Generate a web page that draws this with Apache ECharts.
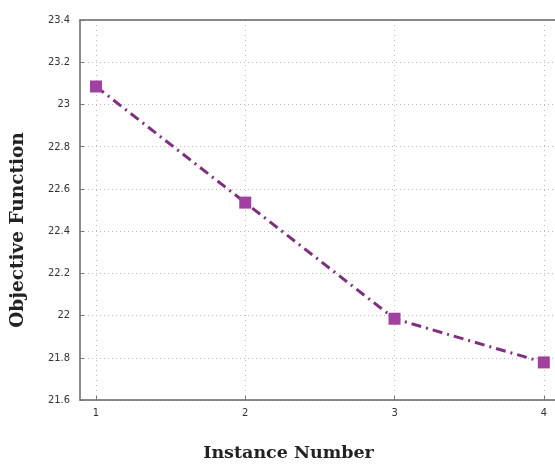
<!DOCTYPE html>
<html>
<head>
<meta charset="utf-8">
<script src="https://cdn.jsdelivr.net/npm/echarts@6/dist/echarts.min.js"></script>
<style>
  html, body { margin: 0; padding: 0; background: #fff; }
  #mainChart { width: 555px; height: 467px; }
</style>
</head>
<body>
<div id="mainChart"></div>
<script>
// instance numbers and objective values
var instances = [1, 2, 3, 4];
var objective = [23.085, 22.535, 21.985, 21.778];
var yTicks = [21.6, 21.8, 22, 22.2, 22.4, 22.6, 22.8, 23, 23.2, 23.4];

var myChart = echarts.init(document.getElementById('mainChart'));

var points = instances.map(function(x, i) { return [x, objective[i]]; });

myChart.setOption({
    animation: false,
    grid: { left: 80, right: 0, top: 20, bottom: 65 },
    xAxis: [{
        type: 'value',
        min: 0.893,
        max: 4.075,
        name: 'Instance Number',
        nameLocation: 'middle',
        nameGap: 44,
        nameTextStyle: { fontFamily: 'DejaVu Serif', fontWeight: 'bold', fontSize: 17.5, color: '#222', padding: [0, 58, 0, 0] },
        axisLine: { lineStyle: { color: '#666', width: 1.5 } },
        axisTick: { inside: true, length: 4, customValues: instances, lineStyle: { color: '#777' } },
        axisLabel: { customValues: instances, fontSize: 11, color: '#333', fontFamily: 'DejaVu Sans Condensed', margin: 8 },
        splitLine: { show: true, customValues: instances, lineStyle: { color: '#bbb', type: [1, 4] } }
    }, {
        type: 'value',
        position: 'top',
        min: 0.893,
        max: 4.075,
        axisLine: { show: true, lineStyle: { color: '#666', width: 1.5 } },
        axisTick: { show: false },
        axisLabel: { show: false },
        splitLine: { show: false }
    }],
    yAxis: {
        type: 'value',
        min: 21.6,
        max: 23.4,
        interval: 0.2,
        name: 'Objective Function',
        nameLocation: 'middle',
        nameGap: 52,
        nameTextStyle: { fontFamily: 'DejaVu Serif', fontWeight: 'bold', fontSize: 18.5, color: '#222', padding: [0, 40, 0, 0] },
        axisLine: { show: true, lineStyle: { color: '#666', width: 1.5 } },
        axisTick: { show: true, inside: true, length: 4, lineStyle: { color: '#777' } },
        axisLabel: {
            fontSize: 11, color: '#333', fontFamily: 'DejaVu Sans Condensed', margin: 10,
            formatter: function(v) { return String(Math.round(v * 10) / 10); }
        },
        splitLine: { show: true, lineStyle: { color: '#bbb', type: [1, 3] } }
    },
    series: [{
        type: 'line',
        data: points,
        symbol: 'rect',
        symbolSize: 12,
        itemStyle: { color: '#a0409f' },
        lineStyle: { color: '#7e2f7e', width: 3, type: [10, 5, 2, 5] }
    }]
});
</script>
</body>
</html>
